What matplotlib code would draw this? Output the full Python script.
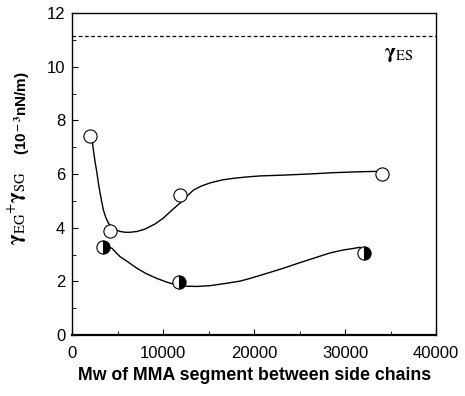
import matplotlib
matplotlib.use("Agg")
import matplotlib.pyplot as plt
from matplotlib.ticker import MultipleLocator

plt.rcParams["font.family"] = ["Liberation Sans", "DejaVu Sans"]
plt.rcParams["mathtext.fontset"] = "stix"

# measured points
open_x = [2000, 4200, 11900, 34100]
open_y = [7.42, 3.86, 5.22, 6.0]
half_x = [3440, 11720, 32090]
half_y = [3.27, 1.97, 3.04]

# fitted curves
upper_x = [2165, 2341, 2527, 2714, 2890, 3077, 3264, 3440, 3681, 3989,
           4341, 4725, 5275, 5824, 6374, 7143, 8022, 9121, 10033, 10989,
           11868, 12637, 13330, 14176, 15165, 16484, 17725, 19121, 20659,
           23220, 25934, 28681, 31099, 33484]
upper_y = [7.39, 6.90, 6.45, 6.08, 5.67, 5.29, 4.96, 4.66, 4.40, 4.17,
           4.03, 3.93, 3.86, 3.83, 3.83, 3.86, 3.95, 4.14, 4.36, 4.66,
           4.92, 5.18, 5.40, 5.55, 5.67, 5.78, 5.84, 5.89, 5.93,
           5.96, 6.00, 6.05, 6.08, 6.10]
lower_x = [3440, 4363, 4835, 5275, 6154, 7110, 8132, 9308, 10330, 11505,
           12527, 13703, 15165, 16813, 18462, 19560, 21319, 23220, 25055,
           26890, 28352, 29813, 30769, 31648]
lower_y = [3.27, 3.24, 3.07, 2.92, 2.72, 2.49, 2.29, 2.11, 1.98, 1.86,
           1.82, 1.81, 1.84, 1.92, 2.01, 2.11, 2.29, 2.49, 2.70,
           2.90, 3.06, 3.17, 3.22, 3.27]

gamma_es = 11.15

fig = plt.figure(figsize=(4.65, 3.96), dpi=100)
ax = fig.add_axes([0.155, 0.154, 0.783, 0.813])

ax.plot(upper_x, upper_y, color="black", lw=1.0, zorder=2)
ax.plot(lower_x, lower_y, color="black", lw=1.0, zorder=2)
ax.axhline(gamma_es, color="black", lw=0.9, ls=(0, (3, 2)), zorder=1)

ax.plot(open_x, open_y, "o", ms=9.5, mfc="white", mec="black", mew=0.8,
        ls="none", zorder=3)
ax.plot(half_x, half_y, "o", ms=9.5, fillstyle="right", mfc="black",
        markerfacecoloralt="white", mec="black", mew=0.8, ls="none", zorder=3)

ax.text(34300, 10.45, r"$\mathbf{\gamma}_{\rm ES}$", fontsize=15,
        ha="left", va="center")

ax.set_xlim(0, 40000)
ax.set_ylim(0, 12)
ax.xaxis.set_major_locator(MultipleLocator(10000))
ax.xaxis.set_minor_locator(MultipleLocator(5000))
ax.yaxis.set_major_locator(MultipleLocator(2))
ax.yaxis.set_minor_locator(MultipleLocator(1))
ax.tick_params(which="both", direction="in", labelsize=12)
ax.tick_params(which="major", length=4)
ax.tick_params(which="minor", length=3)
ax.tick_params(axis="x", pad=8)
ax.tick_params(axis="y", pad=5)
for s in ax.spines.values():
    s.set_linewidth(1.0)
ax.spines["bottom"].set_linewidth(1.6)

ax.set_xlabel("Mw of MMA segment between side chains", fontsize=12.8,
              fontweight="bold", labelpad=4)

fig.text(0.038, 1 - 208 / 396,
         r"$\mathbf{\gamma}_{\rm EG}{}^{+}\mathbf{\gamma}_{\rm SG}$",
         rotation=90, fontsize=15, ha="center", va="center")
fig.text(0.047, 1 - 113 / 396, r"(10$^{\bf -3}$nN/m)", rotation=90,
         fontsize=11, fontweight="bold", ha="center", va="center")

fig.savefig("out.png", dpi=100)
